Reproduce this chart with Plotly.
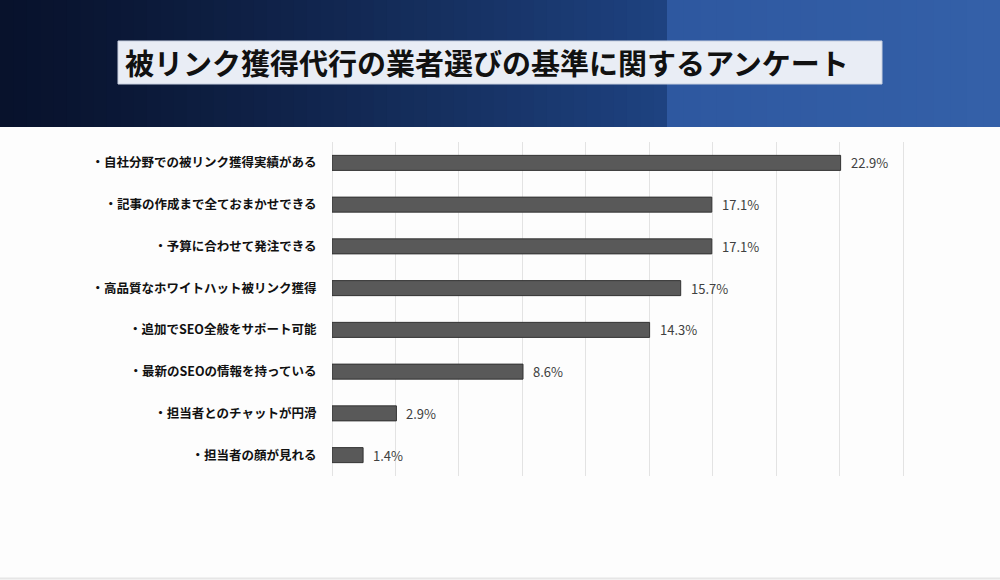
import plotly.graph_objects as go

categories = [
    "・自社分野での被リンク獲得実績がある",
    "・記事の作成まで全ておまかせできる",
    "・予算に合わせて発注できる",
    "・高品質なホワイトハット被リンク獲得",
    "・追加でSEO全般をサポート可能",
    "・最新のSEOの情報を持っている",
    "・担当者とのチャットが円滑",
    "・担当者の顔が見れる",
]
values = [22.9, 17.1, 17.1, 15.7, 14.3, 8.6, 2.9, 1.4]
value_labels = ["22.9%", "17.1%", "17.1%", "15.7%", "14.3%", "8.6%", "2.9%", "1.4%"]
title_text = "被リンク獲得代行の業者選びの基準に関するアンケート"

W, H = 1000, 580
FONT = "Noto Sans CJK JP"

fig = go.Figure()
fig.add_trace(go.Bar(
    x=values, y=categories, orientation="h",
    marker=dict(color="#595959", line=dict(color="#333333", width=1)),
    width=0.36, hoverinfo="skip",
))

annotations = []
for v, c, t in zip(values, categories, value_labels):
    annotations.append(dict(x=v, y=c, xref="x", yref="y", text=t, showarrow=False,
                            xanchor="left", yanchor="middle", xshift=8,
                            font=dict(family=FONT, size=13, color="#404040")))

# header gradient
shapes = []
def lerp(a, b, t):
    return tuple(int(round(a[i] + (b[i] - a[i]) * t)) for i in range(3))

hdr_top = 1.0
hdr_bot = 1 - 127 / H
n = 50
c0, c1 = (8, 18, 44), (30, 66, 128)
split = 0.667
for i in range(n):
    x0 = split * i / n
    x1 = split * (i + 1) / n + 0.001
    col = lerp(c0, c1, (i / (n - 1)) ** 1.2)
    shapes.append(dict(type="rect", xref="paper", yref="paper", x0=x0, x1=x1,
                       y0=hdr_bot, y1=hdr_top, fillcolor="rgb(%d,%d,%d)" % col,
                       line=dict(width=0), layer="below"))
m = 20
d0, d1 = (46, 88, 160), (52, 96, 168)
for i in range(m):
    x0 = split + (1 - split) * i / m
    x1 = split + (1 - split) * (i + 1) / m + 0.001
    col = lerp(d0, d1, i / (m - 1))
    shapes.append(dict(type="rect", xref="paper", yref="paper", x0=x0, x1=x1,
                       y0=hdr_bot, y1=hdr_top, fillcolor="rgb(%d,%d,%d)" % col,
                       line=dict(width=0), layer="below"))
# title box
shapes.append(dict(type="rect", xref="paper", yref="paper",
                   x0=118 / W, x1=882 / W, y0=1 - 84 / H, y1=1 - 41 / H,
                   fillcolor="#e9edf5", line=dict(color="#c8d0e0", width=1), layer="below"))
# bottom line
shapes.append(dict(type="line", xref="paper", yref="paper", x0=0, x1=1,
                   y0=1.5 / H, y1=1.5 / H, line=dict(color="#e6e6e6", width=2)))

annotations.append(dict(x=123 / W, y=1 - 62.5 / H, xref="paper", yref="paper",
                        text="<b>" + title_text + "</b>", showarrow=False,
                        xanchor="left", yanchor="middle",
                        font=dict(family=FONT, size=29, color="#111111")))

fig.update_layout(
    width=W, height=H,
    margin=dict(l=0, r=0, t=0, b=0),
    paper_bgcolor="#fdfdfd", plot_bgcolor="rgba(0,0,0,0)",
    showlegend=False,
    shapes=shapes,
    annotations=annotations,
    bargap=0.64,
    xaxis=dict(domain=[332 / W, 908 / W], range=[0, 100 * 18 / 70 + 0.22],
               tick0=0, dtick=100 * 2 / 70, showticklabels=False,
               showgrid=True, gridcolor="#e3e3e3", gridwidth=1,
               zeroline=True, zerolinecolor="#e3e3e3", zerolinewidth=1,
               showline=False, fixedrange=True),
    yaxis=dict(domain=[1 - 476 / H, 1 - 142 / H], autorange="reversed",
               categoryorder="array", categoryarray=categories,
               tickfont=dict(family=FONT, size=12.5, color="#111111", weight="bold"),
               ticks="outside", ticklen=12, tickcolor="rgba(0,0,0,0)",
               showgrid=False, showline=False, fixedrange=True),
)

fig.write_html("out.html", config={"displayModeBar": False},
               post_script="document.body.style.margin='0';document.body.style.overflow='hidden';")
